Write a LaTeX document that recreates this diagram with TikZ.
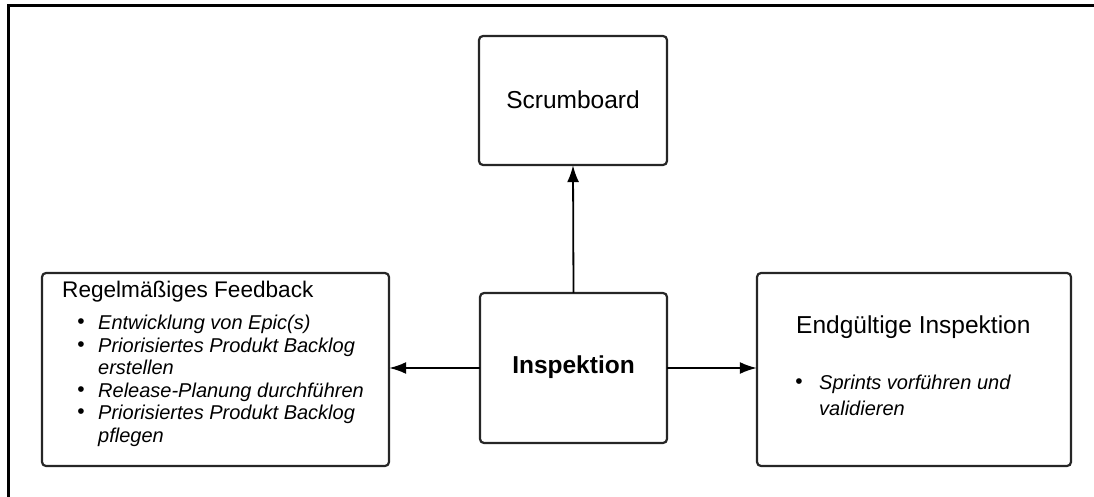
\documentclass[tikz,border=0pt]{standalone}
\usepackage{fontspec}
\setmainfont{Liberation Sans}
\usetikzlibrary{arrows.meta}
\begin{document}
\begin{tikzpicture}[x=1pt,y=-1pt,
  box/.style={draw=black!85, line width=2.2pt, rounded corners=4pt},
  arr/.style={line width=1.8pt, -{Latex[length=17pt,width=12pt]}},
  ttl/.style={inner sep=0pt, font=\fontsize{24.5}{28}\selectfont},
  itm/.style={inner sep=0pt, anchor=west, text height=14pt, text depth=4pt, font=\fontsize{20}{23}\selectfont\itshape},
  bul/.style={inner sep=0pt, anchor=center, font=\fontsize{21}{24}\selectfont}]
\useasboundingbox (0,0) rectangle (1094,497);
% outer frame
\draw[line width=3pt] (8,497) -- (8,6) -- (1094,6);
% boxes
\draw[box] (479,36) rectangle (667,165);
\node (scrum) at (573,100.5) [minimum width=188pt, minimum height=129pt, inner sep=0pt] {};
\node[ttl] (scrumt) at (573,100) {Scrumboard};
\draw[box] (480,293) rectangle (667,443);
\node (insp) at (573.5,368) [minimum width=187pt, minimum height=150pt, inner sep=0pt] {};
\node[ttl, font=\fontsize{24.5}{28}\selectfont\bfseries] (inspt) at (573.5,367) {Inspektion};
\draw[box] (42,273) rectangle (389,466);
\node (left) at (215.5,369.5) [minimum width=347pt, minimum height=193pt, inner sep=0pt] {};
\draw[box] (757,273) rectangle (1071,466);
\node (right) at (914,369.5) [minimum width=314pt, minimum height=193pt, inner sep=0pt] {};
% left texts
\node[ttl, anchor=west, font=\fontsize{22.6}{26}\selectfont] (lt) at (62,292) {Regelmäßiges Feedback};
\node[bul] (b1) at (81,324) {•};
\node[itm] (l1) at (98,324) {Entwicklung von Epic(s)};
\node[bul] (b2) at (81,347) {•};
\node[itm] (l2) at (98,347) {Priorisiertes Produkt Backlog};
\node[itm] (l3) at (98,369) {erstellen};
\node[bul] (b3) at (81,392) {•};
\node[itm] (l4) at (98,392) {Release-Planung durchführen};
\node[bul] (b4) at (81,414) {•};
\node[itm] (l5) at (98,414) {Priorisiertes Produkt Backlog};
\node[itm] (l6) at (98,437) {pflegen};
% right texts
\node[ttl, anchor=west] (rt) at (796,327) {Endgültige Inspektion};
\node[bul] (b5) at (799,384) {•};
\node[itm] (r1) at (819,384) {Sprints vorführen und};
\node[itm] (r2) at (819,410) {validieren};
% arrows
\draw[arr] (insp.north) -- (scrum.south);
\draw[arr] (insp.west) -- (left.east |- insp.west);
\draw[arr] (insp.east) -- (right.west |- insp.east);
\end{tikzpicture}
\end{document}
